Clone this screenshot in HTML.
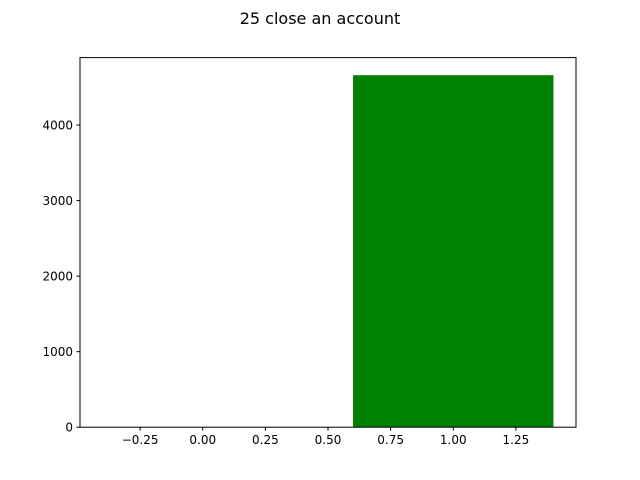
<!DOCTYPE html>
<html><head><meta charset="utf-8"><style>body{margin:0;background:#fff}svg{display:block;font-family:"DejaVu Sans","Liberation Sans",sans-serif}</style></head>
<body>
<svg id="chart" width="640" height="480">
<text x="320" y="24" text-anchor="middle" font-size="16">25 close an account</text>
<g id="plot"></g>
</svg>
<script>
const categories = [0, 1];
const values = [0, 4660];
const xTicks = [-0.25, 0, 0.25, 0.5, 0.75, 1.0, 1.25];
const xTickLabels = ["\u22120.25", "0.00", "0.25", "0.50", "0.75", "1.00", "1.25"];
const yTicks = [0, 1000, 2000, 3000, 4000];
const yTickLabels = ["0", "1000", "2000", "3000", "4000"];

const L = 80, R = 576, T = 57.6, B = 427.2, barW = 0.8;
const xmin = Math.min(...categories) - barW / 2, xmax = Math.max(...categories) + barW / 2;
const xpad = (xmax - xmin) * 0.05;
const x0 = xmin - xpad, x1 = xmax + xpad;
const ymax = Math.max(...values) * 1.05;
const xs = v => L + (v - x0) / (x1 - x0) * (R - L);
const ys = v => B - v / ymax * (B - T);
const NS = "http://www.w3.org/2000/svg";
const g = document.getElementById("plot");
function mk(tag, attrs) { const e = document.createElementNS(NS, tag); for (const k in attrs) e.setAttribute(k, attrs[k]); g.appendChild(e); return e; }

categories.forEach((c, i) => {
  const r = mk("rect", { x: xs(c - barW / 2), y: ys(values[i]), width: xs(c + barW / 2) - xs(c - barW / 2), height: B - ys(values[i]), fill: "#008000" });
  
  
});
const frame = mk("rect", { x: L, y: T, width: R - L, height: B - T, fill: "none", stroke: "#000", "stroke-width": 1 });


xTicks.forEach((t, i) => {
  const x = xs(t);
  const l = mk("line", { x1: x, x2: x, y1: B, y2: B + 3.5, stroke: "#000" });
  
  
  const tx = mk("text", { x: x, y: B + 17, "text-anchor": "middle", "font-size": 12 });
  tx.textContent = xTickLabels[i];
  
  
});
yTicks.forEach((t, i) => {
  const y = ys(t);
  const l = mk("line", { x1: L - 3.5, x2: L, y1: y, y2: y, stroke: "#000" });
  
  
  const tx = mk("text", { x: L - 7, y: y + 4.5, "text-anchor": "end", "font-size": 12 });
  tx.textContent = yTickLabels[i];
  
  
});
</script>
</body></html>
